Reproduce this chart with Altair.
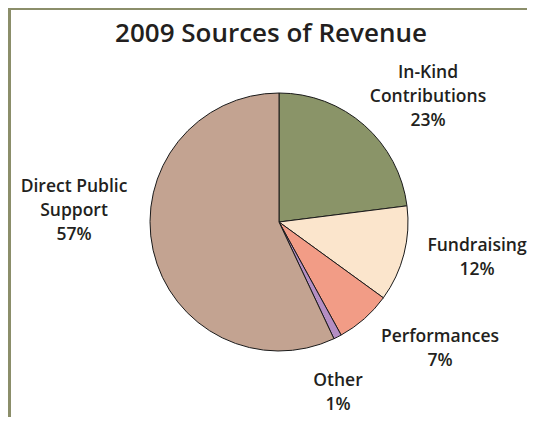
import altair as alt
import pandas as pd

categories = ["In-Kind Contributions", "Fundraising", "Performances", "Other", "Direct Public Support"]
label_lines = ["In-Kind\nContributions", "Fundraising", "Performances", "Other", "Direct Public\nSupport"]
percents = [23, 12, 7, 1, 57]
colors = ["#8a9468", "#fbe5cc", "#f29c86", "#b48ec3", "#c3a391"]
title_text = "2009 Sources of Revenue"

# layout (chart-local pixels): centre of each label's first line
label_pos = {
    "In-Kind Contributions": (420, 65),
    "Fundraising": (469, 238),
    "Performances": (432, 329),
    "Other": (330, 373),
    "Direct Public Support": (66, 179),
}

df = pd.DataFrame({
    "category": categories,
    "value": percents,
    "order": list(range(len(categories))),
    "label": [f"{l}\n{p}%" for l, p in zip(label_lines, percents)],
})

W, H = 519, 409
CX, CY, R = 271, 214, 129
FONT = "Open Sans"
TXT = "#231f20"

bg = alt.Chart(alt.Data(values=[{}])).mark_rect(color="white").encode(
    x=alt.value(3), x2=alt.value(W), y=alt.value(2), y2=alt.value(H)
)

pie = alt.Chart(df).mark_arc(stroke="#1a1a1a", strokeWidth=1, radius=R).encode(
    theta=alt.Theta("value:Q", stack=True),
    order=alt.Order("order:Q"),
    color=alt.Color("category:N", scale=alt.Scale(domain=categories, range=colors), legend=None),
    x=alt.value(CX), y=alt.value(CY),
)

title = alt.Chart(alt.Data(values=[{"t": title_text}])).mark_text(
    font=FONT, fontSize=26, fontWeight=600, color=TXT, align="center", baseline="middle"
).encode(text="t:N", x=alt.value(263), y=alt.value(26))

labels = []
for cat in categories:
    px, py = label_pos[cat]
    labels.append(
        alt.Chart(df).transform_filter(alt.datum.category == cat).mark_text(
            font=FONT, fontSize=17.5, fontWeight=600, color=TXT,
            align="center", baseline="middle", lineBreak="\n", lineHeight=24
        ).encode(text="label:N", x=alt.value(px), y=alt.value(py))
    )

chart = alt.layer(bg, pie, title, *labels).properties(
    width=W, height=H, background="#8b8e6a", padding=0,
    autosize=alt.AutoSizeParams(type="fit", contains="padding"),
).configure_view(stroke=None)

chart.save("out.html", embed_options={"renderer": "svg", "actions": False})
